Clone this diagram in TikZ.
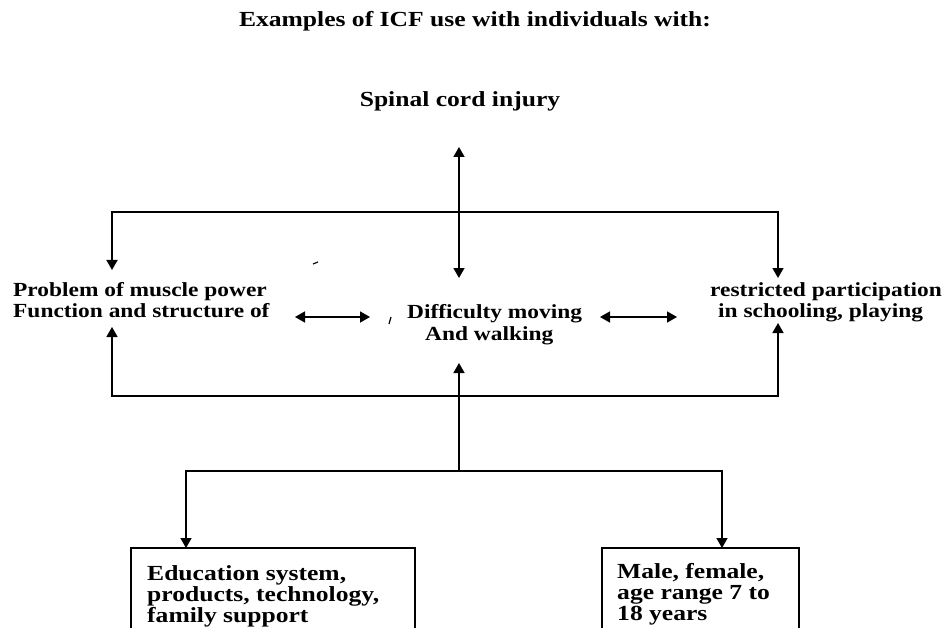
\documentclass[tikz,border=0pt]{standalone}
\usepackage{fontspec}
\setmainfont{Liberation Serif}
\newfontfamily\lblfont[FakeStretch=1.17]{Liberation Serif}
\newfontfamily\bigfont[FakeStretch=1.19]{Liberation Serif}
\usetikzlibrary{arrows.meta}
\begin{document}
\begin{tikzpicture}[x=1pt,y=-1pt,
  lbl/.style={font=\lblfont\fontsize{20}{22}\selectfont\bfseries, inner sep=0pt, anchor=base west},
  big/.style={font=\bigfont\fontsize{21.5}{21}\selectfont\bfseries, inner sep=0pt},
  conn/.style={line width=1.6pt},
  arr/.style={conn,-{Triangle[length=10pt,width=11pt]}},
  darr/.style={conn,{Triangle[length=10pt,width=11pt]}-{Triangle[length=10pt,width=11pt]}},
  boxst/.style={draw, line width=1.6pt}]
\clip (0,0) rectangle (947,628);
\useasboundingbox (0,0) rectangle (947,628);
% titles
\node[big, anchor=base] (title) at (475,27) {Examples of ICF use with individuals with:};
\node[big, anchor=base] (sci) at (460,107) {Spinal cord injury};
% main labels
\node[lbl] (prob1) at (13,296) {Problem of muscle power};
\node[lbl] (prob2) at (13,317) {Function and structure of};
\node[lbl] (diff1) at (407,318) {Difficulty moving};
\node[lbl] (diff2) at (425,340) {And walking};
\node[lbl] (part1) at (710,296) {restricted participation};
\node[lbl] (part2) at (718,317) {in schooling, playing};
% coordinates
\coordinate (ctop) at (459,147);
\coordinate (cdiff) at (459,278);
\coordinate (tj) at (459,212);
\coordinate (pl) at (112,270);
\coordinate (pr) at (778,278);
\coordinate (bjm) at (459,396);
\coordinate (plb) at (112,327);
\coordinate (prb) at (778,323);
\coordinate (dbot) at (459,363);
\coordinate (bj) at (459,471);
% boxes
\draw[boxst] (131,548) rectangle (415,640);
\draw[boxst] (602,548) rectangle (799,640);
\node[big, anchor=base west] (env1) at (147,580) {Education system,};
\node[big, anchor=base west] (env2) at (147,601) {products, technology,};
\node[big, anchor=base west] (env3) at (147,622) {family support};
\node[big, anchor=base west] (pers1) at (617,578) {Male, female,};
\node[big, anchor=base west] (pers2) at (617,599) {age range 7 to};
\node[big, anchor=base west] (pers3) at (617,620) {18 years};
\coordinate (envtop) at (186,548);
\coordinate (perstop) at (722,548);
% connectors
\draw[darr] (ctop) -- (cdiff);
\draw[arr] (tj) -| (pl);
\draw[arr] (tj) -| (pr);
\draw[arr] (bjm) -| (plb);
\draw[arr] (bjm) -| (prb);
\draw[arr] (bj) -- (dbot);
\draw[arr] (bj) -| (envtop);
\draw[arr] (bj) -| (perstop);
\draw[darr] (295,317) -- (370,317);
\draw[darr] (600,317) -- (677,317);
% stray marks
\draw[line width=1.2pt] (313,264) -- (318,262);
\draw[line width=1.2pt] (389,324) -- (391,317);
\end{tikzpicture}
\end{document}
